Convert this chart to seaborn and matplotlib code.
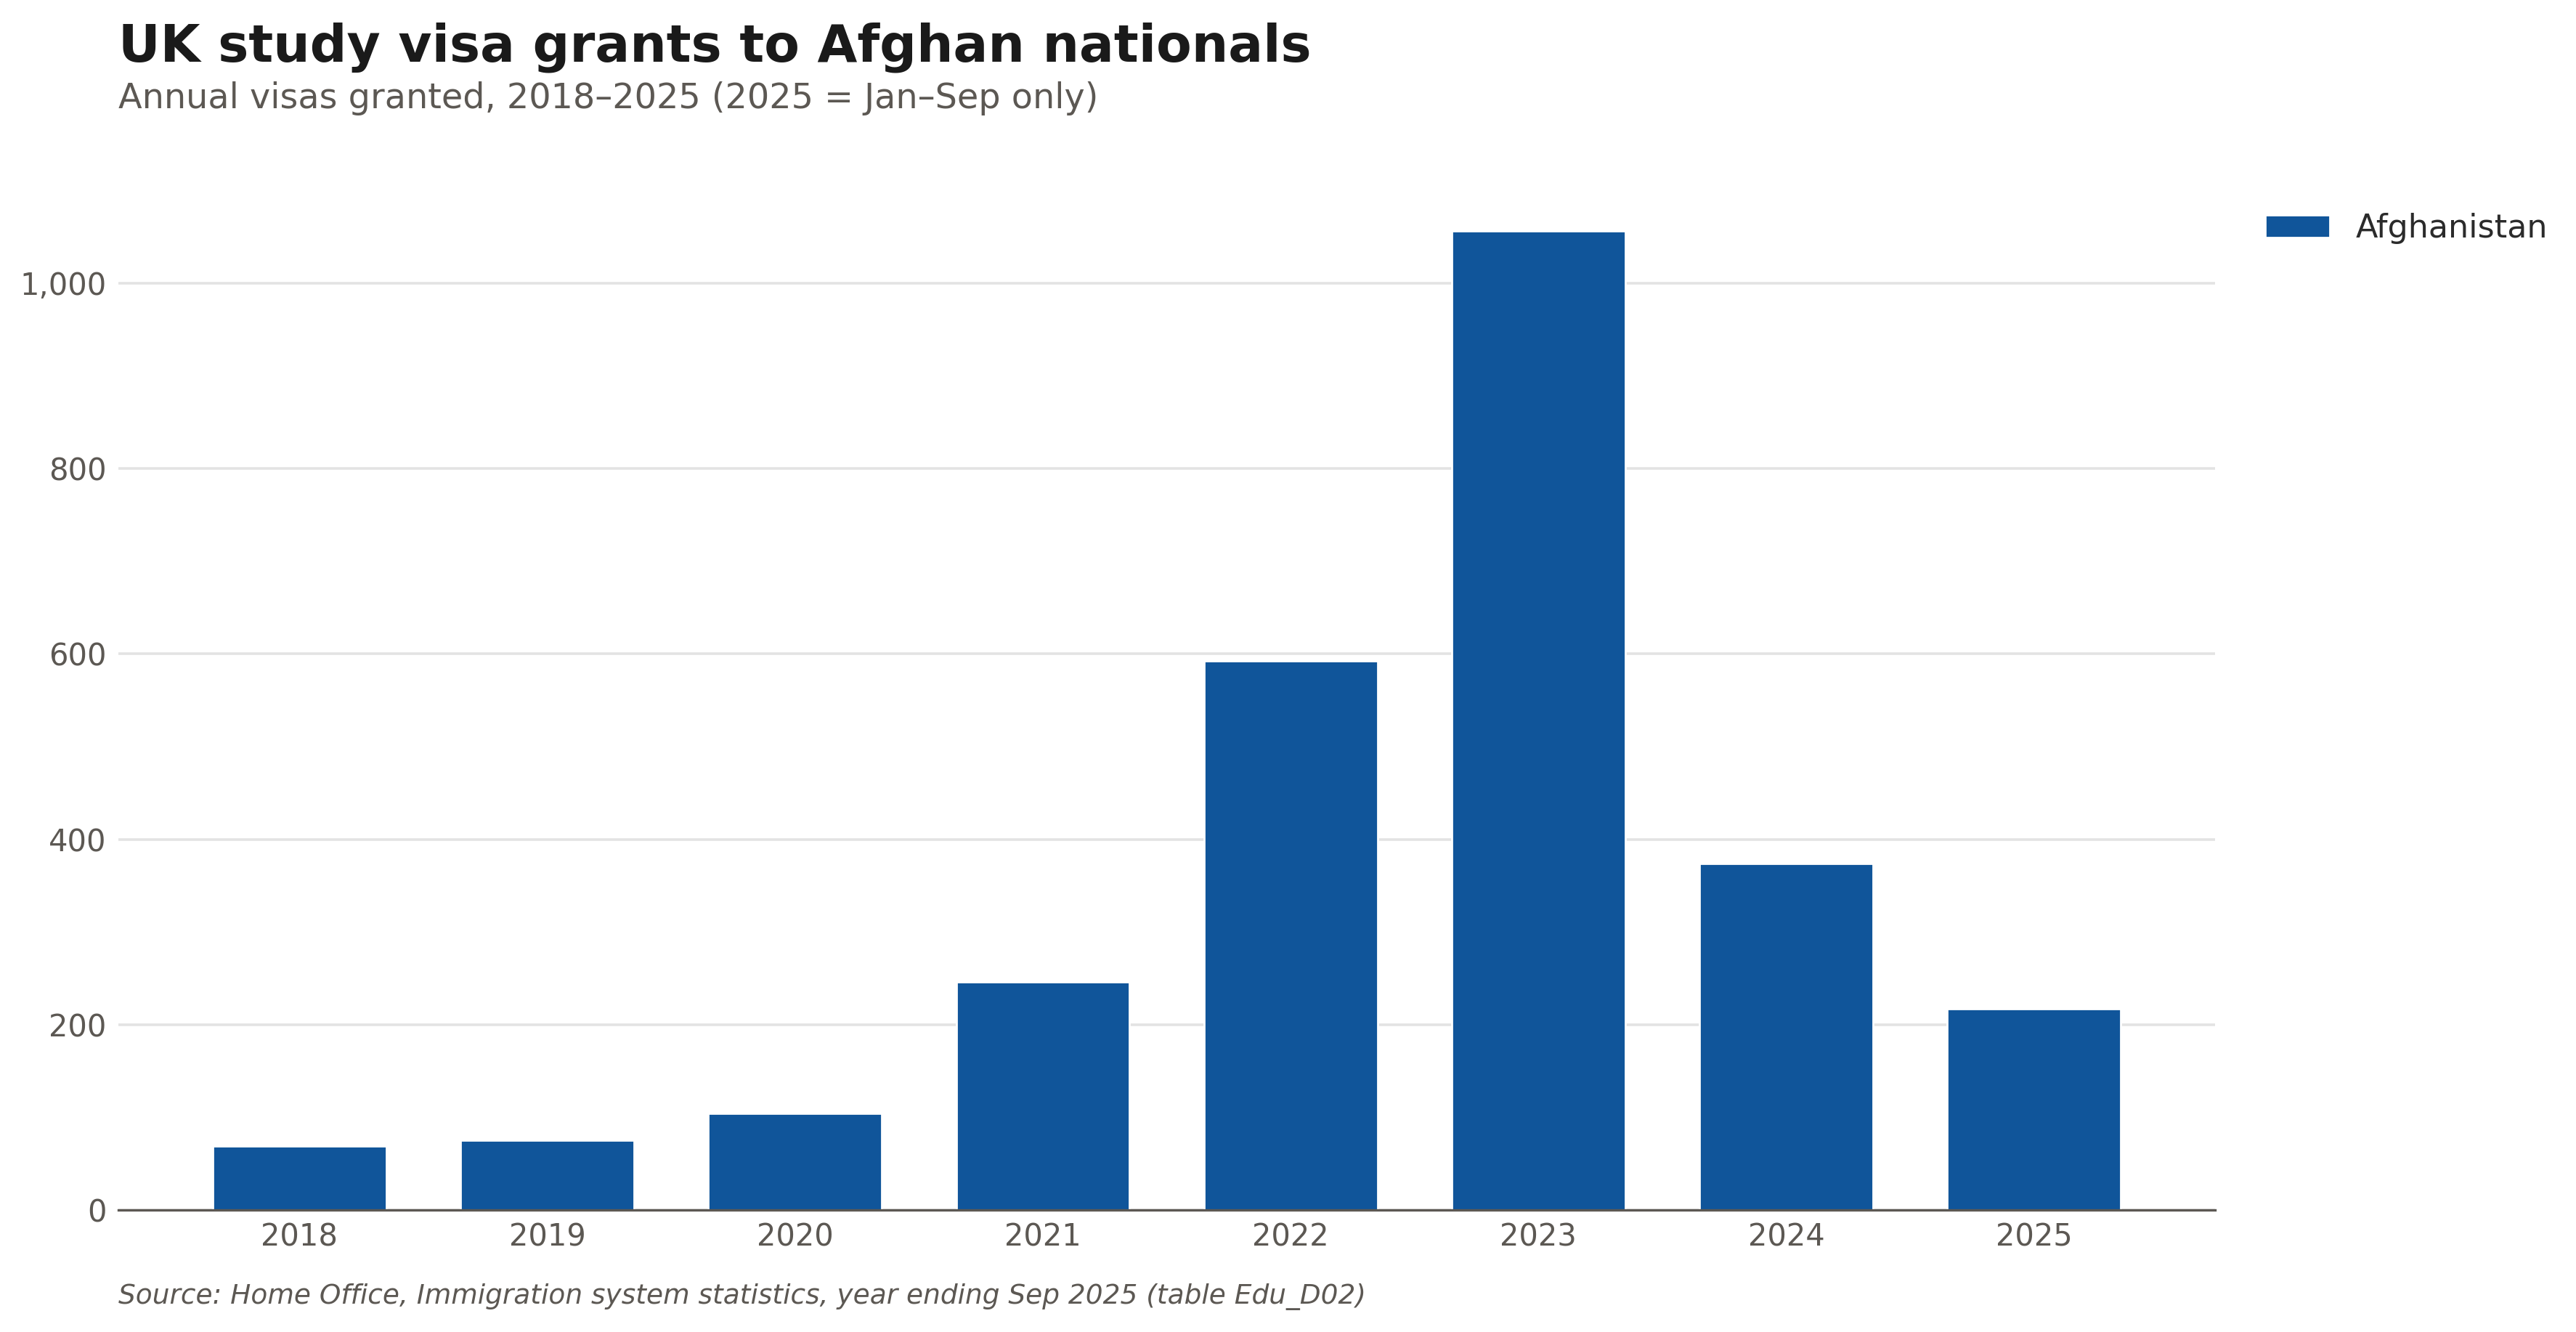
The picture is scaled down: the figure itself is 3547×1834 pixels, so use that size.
import pandas as pd
import matplotlib
matplotlib.use("Agg")
import matplotlib.pyplot as plt
import matplotlib.ticker as mticker
import seaborn as sns

# Annual study visa grants (2025 = Jan-Sep only)
years = ['2018', '2019', '2020', '2021', '2022', '2023', '2024', '2025']
visas = [69, 75, 104, 246, 592, 1056, 374, 217]
country = 'Afghanistan'

df = pd.DataFrame({'Year': years, 'Visas': visas, 'Country': [country] * len(years)})

sns.set_theme(style='white')
plt.rcParams['font.family'] = ['DejaVu Sans']

bar_color = '#10559A'
grey_text = '#5c5853'

fig = plt.figure(figsize=(17.74, 9.17), dpi=200)
ax = fig.add_axes([0.046, 0.0915, 0.8136, 0.772])

sns.barplot(data=df, x='Year', y='Visas', hue='Country', palette=[bar_color],
            width=0.7, saturation=1, ax=ax)

ax.set_xlim(-0.73, 7.73)
ax.set_ylim(0, 1109)
ax.yaxis.set_major_locator(mticker.MultipleLocator(200))
ax.yaxis.set_major_formatter(mticker.FuncFormatter(lambda v, p: f'{int(v):,}'))
ax.grid(axis='y', color='#e3e3e3', linewidth=1.3)
ax.set_axisbelow(True)
ax.set_xlabel('')
ax.set_ylabel('')
for s in ['top', 'right', 'left']:
    ax.spines[s].set_visible(False)
ax.spines['bottom'].set_color(grey_text)
ax.spines['bottom'].set_linewidth(1.2)
ax.tick_params(axis='both', length=0, labelsize=15, labelcolor=grey_text)
ax.tick_params(axis='x', pad=6)
ax.tick_params(axis='y', pad=6)

leg = ax.legend(loc='upper left', bbox_to_anchor=(1.01, 0.998), frameon=False,
                fontsize=16, handlelength=2.0, handletextpad=0.8)
for t in leg.get_texts():
    t.set_color('#2b2b2b')

fig.text(0.046, 0.954, 'UK study visa grants to Afghan nationals', fontsize=25.5,
         fontweight='bold', color='#1a1a1a', ha='left', va='baseline')
fig.text(0.046, 0.919, 'Annual visas granted, 2018–2025 (2025 = Jan–Sep only)',
         fontsize=17.2, color=grey_text, ha='left', va='baseline')
fig.text(0.046, 0.021, 'Source: Home Office, Immigration system statistics, year ending Sep 2025 (table Edu_D02)',
         fontsize=13.5, style='italic', color=grey_text, ha='left', va='baseline')

fig.savefig('out.png', dpi=200, facecolor='white')
